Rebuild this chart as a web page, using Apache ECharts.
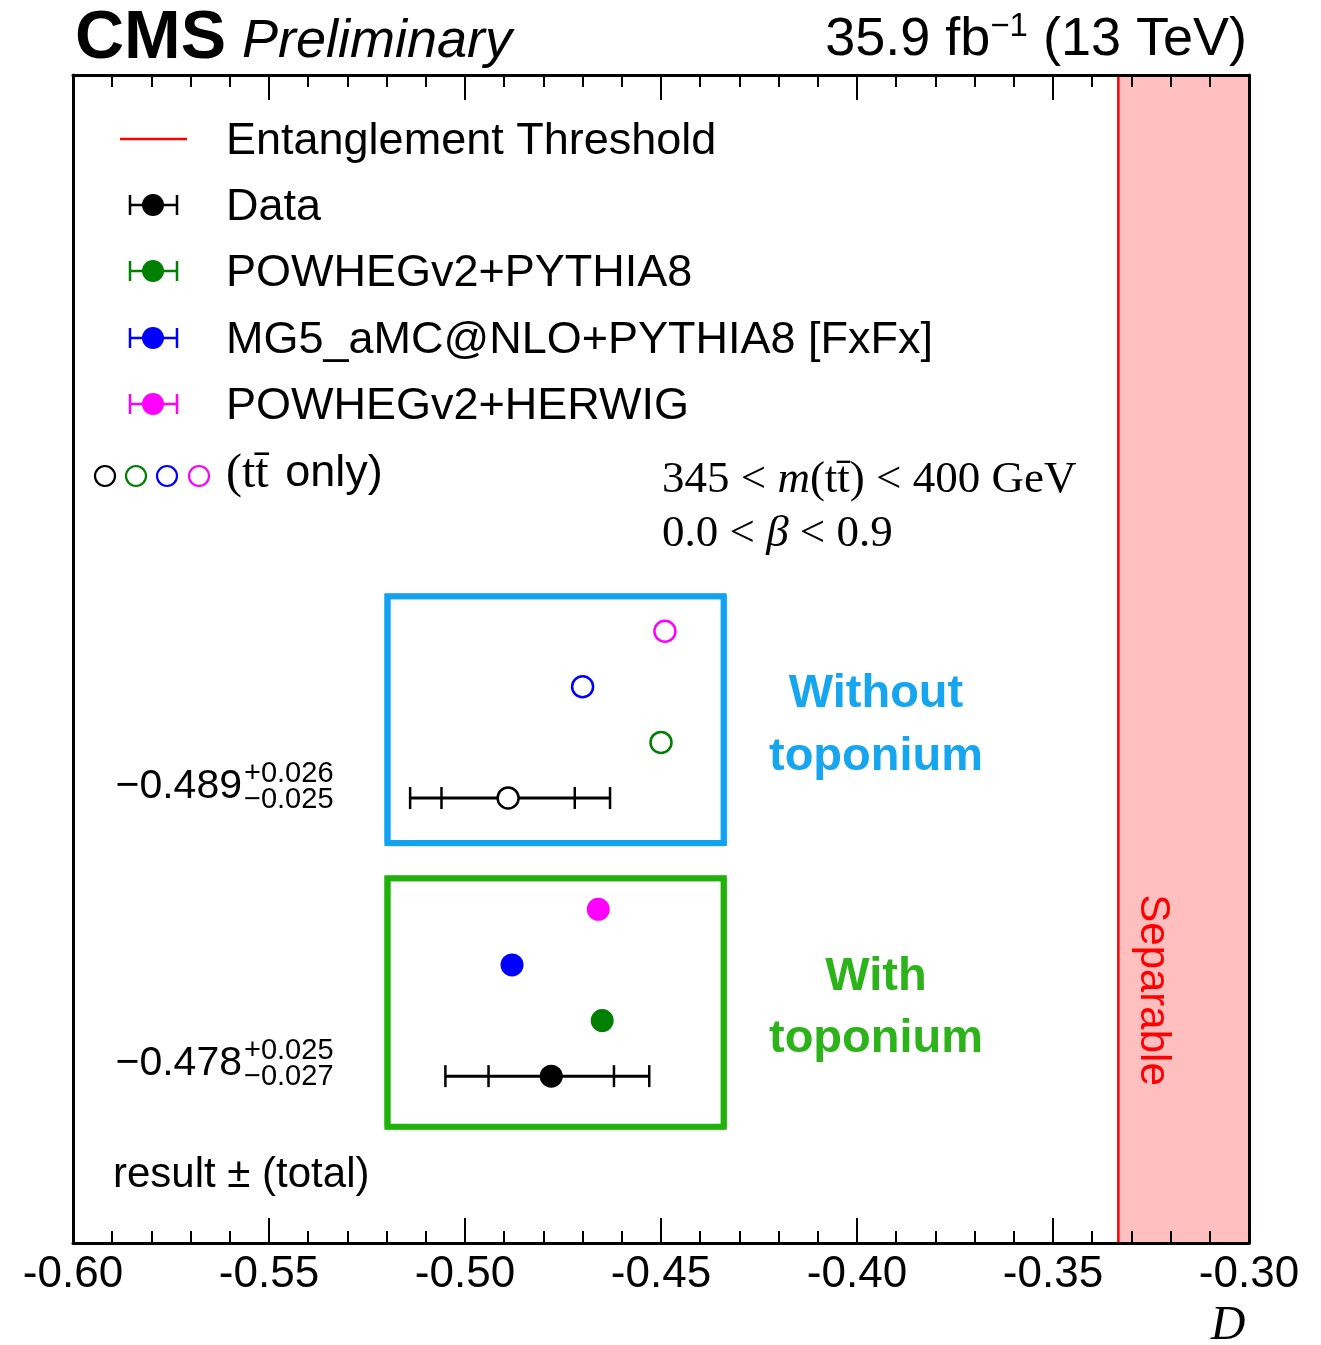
<!DOCTYPE html>
<html><head><meta charset="utf-8">
<script src="https://cdn.jsdelivr.net/npm/echarts@6/dist/echarts.min.js"></script>
<style>html,body{margin:0;padding:0;background:#fff}#c{width:1321px;height:1345px}</style>
</head><body><div id="c"></div>
<script>
// ---------- data ----------
const modelNames = ['Data', 'POWHEGv2+PYTHIA8', 'MG5_aMC@NLO+PYTHIA8 [FxFx]', 'POWHEGv2+HERWIG'];
const modelColors = ['#000000', '#008000', '#0000ff', '#ff00ff'];
// D values, order: Data, POWHEG+PY8, MG5, POWHEG+HERWIG
const withoutToponium = [-0.489, -0.450, -0.470, -0.449];
const withToponium = [-0.478, -0.465, -0.488, -0.466];
const rowsWithout = [8, 9, 10, 11];
const rowsWith = [3, 4, 5, 6];
// data uncertainties [total up, total down, stat up, stat down]
const errWithout = [0.026, 0.025, 0.017, 0.017];
const errWith = [0.025, 0.027, 0.016, 0.016];
const threshold = -1 / 3;
const xMin = -0.60, xMax = -0.30, xStep = 0.05;
const yMin = 0, yMax = 21;
const boxWithout = [-0.5198, -0.434, 7.19, 11.63];
const boxWith = [-0.5198, -0.434, 2.09, 6.56];
const boxColors = ['#13a3f0', '#22b20c'];
const boxTextColors = ['#16a5ef', '#2cb31a'];

// ---------- build ----------
const SANS = '"Liberation Sans", Arial, Helvetica, sans-serif';
const SERIF = '"Liberation Serif", "Times New Roman", serif';

function errRow(v, row, e) { return [v, row, v - e[1], v + e[0], v - e[3], v + e[2]]; }
const errData = [errRow(withoutToponium[0], rowsWithout[0], errWithout), errRow(withToponium[0], rowsWith[0], errWith)];

const openPts = withoutToponium.map((v, i) => ({
  value: [v, rowsWithout[i]],
  itemStyle: { color: '#ffffff', borderColor: modelColors[i], borderWidth: 2.5, opacity: 1 }
}));
const filledPts = withToponium.map((v, i) => ({
  value: [v, rowsWith[i]],
  itemStyle: { color: modelColors[i], borderColor: modelColors[i], borderWidth: 0, opacity: 1 }
}));

const minus = '\u2212';
function fmt(v) { return (v < 0 ? minus : '') + Math.abs(v).toFixed(3); }

const axisCommon = {
  type: 'value', min: xMin, max: xMax, interval: xStep, z: 10,
  axisLine: { show: true, onZero: false, lineStyle: { color: '#000', width: 3 } },
  axisTick: { show: true, inside: true, length: 25, lineStyle: { color: '#000', width: 2 } },
  minorTick: { show: true, splitNumber: 5, length: 12, lineStyle: { color: '#000', width: 2 } },
  splitLine: { show: false }, minorSplitLine: { show: false }
};
const yCommon = {
  type: 'value', min: yMin, max: yMax, z: 10,
  axisLine: { show: true, onZero: false, lineStyle: { color: '#000', width: 3 } },
  axisTick: { show: false }, axisLabel: { show: false }, splitLine: { show: false }
};

const chart = echarts.init(document.getElementById('c'), null, { renderer: 'canvas' });

// legend graphics
const legendRows = [139, 205, 271, 338, 404];
const graphics = [];
graphics.push({ type: 'line', shape: { x1: 120, y1: legendRows[0], x2: 187, y2: legendRows[0] }, style: { stroke: '#ff0000', lineWidth: 2.5 } });
graphics.push({ type: 'text', x: 226, y: legendRows[0] + 3, style: { text: 'Entanglement Threshold', font: '45px ' + SANS, fill: '#000', verticalAlign: 'middle' } });
modelNames.forEach((n, i) => {
  const y = legendRows[i + 1], c = modelColors[i];
  graphics.push({ type: 'line', shape: { x1: 130, y1: y, x2: 177, y2: y }, style: { stroke: c, lineWidth: 2.5 } });
  graphics.push({ type: 'line', shape: { x1: 130, y1: y - 10, x2: 130, y2: y + 10 }, style: { stroke: c, lineWidth: 2.5 } });
  graphics.push({ type: 'line', shape: { x1: 177, y1: y - 10, x2: 177, y2: y + 10 }, style: { stroke: c, lineWidth: 2.5 } });
  graphics.push({ type: 'circle', shape: { cx: 153, cy: y, r: 11 }, style: { fill: c } });
  graphics.push({ type: 'text', x: 226, y: y + 3, style: { text: n, font: '45px ' + SANS, fill: '#000', verticalAlign: 'middle' } });
});
[105, 136, 167, 199].forEach((cx, i) => {
  graphics.push({ type: 'circle', shape: { cx: cx, cy: 476, r: 10 }, style: { fill: 'none', stroke: modelColors[i], lineWidth: 2.2 } });
});
graphics.push({ type: 'text', x: 226, y: 474, style: {
  text: '{s|(tt\u0304}{n| only)}', verticalAlign: 'middle',
  rich: { s: { font: '48px ' + SERIF, fill: '#000' }, n: { font: '45px ' + SANS, fill: '#000', padding: [0, 0, 0, 4] } }
} });
// kinematic selection text
graphics.push({ type: 'text', x: 662, y: 480, style: {
  text: '{r|345 < }{i|m}{r|(tt\u0304) < 400 GeV}', verticalAlign: 'middle',
  rich: { r: { font: '45px ' + SERIF, fill: '#000' }, i: { font: 'italic 45px ' + SERIF, fill: '#000' } }
} });
graphics.push({ type: 'text', x: 662, y: 534, style: {
  text: '{r|0.0 < }{i|\u03b2}{r| < 0.9}', verticalAlign: 'middle',
  rich: { r: { font: '45px ' + SERIF, fill: '#000' }, i: { font: 'italic 45px ' + SERIF, fill: '#000' } }
} });
// box titles
[['Without', 'toponium', 692, 755, 0], ['With', 'toponium', 975, 1037, 1]].forEach(t => {
  graphics.push({ type: 'text', x: 876, y: t[2] + 2, style: { text: t[0], font: 'bold 47px ' + SANS, fill: boxTextColors[t[4]], align: 'center', verticalAlign: 'middle' } });
  graphics.push({ type: 'text', x: 876, y: t[3] + 2, style: { text: t[1], font: 'bold 47px ' + SANS, fill: boxTextColors[t[4]], align: 'center', verticalAlign: 'middle' } });
});
// results
[[withoutToponium[0], errWithout, 787], [withToponium[0], errWith, 1064]].forEach(r => {
  graphics.push({ type: 'text', x: 242, y: r[2], style: { text: fmt(r[0]), font: '41px ' + SANS, fill: '#000', align: 'right', verticalAlign: 'middle' } });
  graphics.push({ type: 'text', x: 244, y: r[2] - 13, style: { text: '+' + r[1][0].toFixed(3), font: '29px ' + SANS, fill: '#000', align: 'left', verticalAlign: 'middle' } });
  graphics.push({ type: 'text', x: 244, y: r[2] + 13, style: { text: minus + r[1][1].toFixed(3), font: '29px ' + SANS, fill: '#000', align: 'left', verticalAlign: 'middle' } });
});
graphics.push({ type: 'text', x: 113, y: 1175, style: { text: 'result \u00b1 (total)', font: '42px ' + SANS, fill: '#000', verticalAlign: 'middle' } });
// Separable
graphics.push({ type: 'text', x: 1153, y: 990, rotation: -Math.PI / 2, z: 20, style: { text: 'Separable', font: '42px ' + SANS, fill: '#ff0000', align: 'center', verticalAlign: 'middle' } });
// header
graphics.push({ type: 'text', x: 75, y: 39, style: { text: 'CMS', font: 'bold 68px ' + SANS, fill: '#000', verticalAlign: 'middle' } });
graphics.push({ type: 'text', x: 242, y: 42, style: { text: 'Preliminary', font: 'italic 54px ' + SANS, fill: '#000', verticalAlign: 'middle' } });
graphics.push({ type: 'text', x: 1247, y: 40, style: {
  text: '{a|35.9 fb}{s|\u22121}{a| (13 TeV)}', align: 'right', verticalAlign: 'middle',
  rich: { a: { font: '54px ' + SANS, fill: '#000', lineHeight: 60 }, s: { font: '33px ' + SANS, fill: '#000', verticalAlign: 'top', lineHeight: 60, padding: [0, 0, 22, 0] } }
} });
// axis title D
graphics.push({ type: 'text', x: 1228, y: 1326, style: { text: 'D', font: 'italic 48px ' + SERIF, fill: '#000', align: 'center', verticalAlign: 'middle' } });

function sketchRect(params, api) {
  const v = [api.value(0), api.value(1), api.value(2), api.value(3)];
  const p0 = api.coord([v[0], v[3]]);
  const p1 = api.coord([v[1], v[2]]);
  const c = boxColors[params.dataIndex];
  const w = p1[0] - p0[0], h = p1[1] - p0[1];
  const strokes = [[0, 0, 6, 1], [-2, -1, 2, 0.6], [2, 1, 2, 0.6], [1, -2, 1.5, 0.5], [-1, 2, 1.5, 0.5], [3, 0, 1, 0.35], [0, 3, 1, 0.35]];
  return { type: 'group', children: strokes.map(s => ({
    type: 'rect', shape: { x: p0[0] + s[0], y: p0[1] + s[1], width: w, height: h },
    style: { fill: 'none', stroke: c, lineWidth: s[2], opacity: s[3] }
  })) };
}

function errItem(params, api) {
  const y = api.value(1);
  const py = api.coord([api.value(0), y])[1];
  const xs = [2, 4, 5, 3].map(k => api.coord([api.value(k), y])[0]);
  const st = { stroke: '#000', lineWidth: 3 };
  const ch = [{ type: 'line', shape: { x1: xs[0], y1: py, x2: xs[3], y2: py }, style: st }];
  xs.forEach(x => ch.push({ type: 'line', shape: { x1: x, y1: py - 11, x2: x, y2: py + 11 }, style: { stroke: '#000', lineWidth: 2.5 } }));
  return { type: 'group', children: ch };
}

function threshItem(params, api) {
  const a = api.coord([api.value(0), yMin]);
  const b = api.coord([api.value(0), yMax]);
  return { type: 'line', shape: { x1: a[0], y1: a[1], x2: b[0], y2: b[1] }, style: { stroke: '#ff0000', lineWidth: 2.5 } };
}

chart.setOption({
  animation: false,
  backgroundColor: '#ffffff',
  grid: { left: 73, right: 72, top: 75, bottom: 102, show: false },
  xAxis: [
    Object.assign({}, axisCommon, { position: 'bottom', axisLabel: { show: true, fontFamily: SANS, fontSize: 44, color: '#000', margin: 10, formatter: v => v.toFixed(2) } }),
    Object.assign({}, axisCommon, { position: 'top', axisLabel: { show: false } })
  ],
  yAxis: [
    Object.assign({}, yCommon, { position: 'left' }),
    Object.assign({}, yCommon, { position: 'right' })
  ],
  graphic: graphics,
  series: [
    {
      type: 'line', data: [], z: 1, silent: true,
      markArea: { silent: true, itemStyle: { color: '#ffbfbf', opacity: 1 }, data: [[{ xAxis: threshold }, { xAxis: xMax }]] }
    },
    { type: 'custom', z: 2, silent: true, renderItem: threshItem, data: [[threshold]] },
    {
      type: 'custom', z: 2, silent: true, renderItem: sketchRect,
      data: [boxWithout, boxWith]
    },
    {
      type: 'custom', z: 3, silent: true, renderItem: errItem, data: errData
    },
    { type: 'scatter', z: 4, symbol: 'circle', symbolSize: 21, data: openPts, silent: true, itemStyle: { opacity: 1 } },
    { type: 'scatter', z: 4, symbol: 'circle', symbolSize: 23, data: filledPts, silent: true, itemStyle: { opacity: 1 } }
  ]
});
</script>
</body></html>
